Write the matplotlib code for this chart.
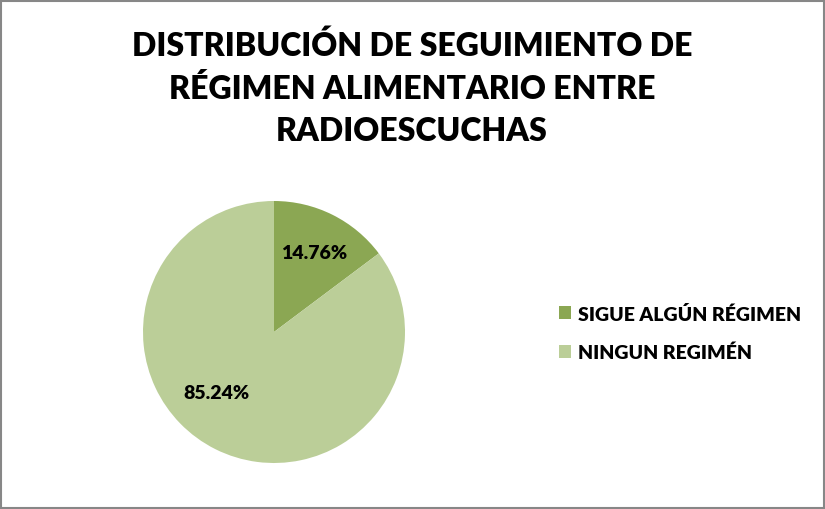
import matplotlib
matplotlib.use("Agg")
import matplotlib.pyplot as plt
from matplotlib.patches import Rectangle, Patch

title = "DISTRIBUCIÓN DE SEGUIMIENTO DE\nRÉGIMEN ALIMENTARIO ENTRE\nRADIOESCUCHAS"
categories = ["SIGUE ALGÚN RÉGIMEN", "NINGUN REGIMÉN"]
values = [14.76, 85.24]
colors = ["#8BA753", "#BBCE98"]

W, H = 825, 510
fig = plt.figure(figsize=(W / 100, H / 100), dpi=100)
fig.patch.set_facecolor("white")
font = "Lato"

# chart border
fig.patches.append(Rectangle((1 / W, 1 / H), 1 - 2.5 / W, 1 - 2.5 / H, transform=fig.transFigure,
                             fill=False, edgecolor="#878787", linewidth=1.5))

# pie axes
cx, cy, r = 274, H - 333, 131
ax = fig.add_axes([(cx - r) / W, (cy - r) / H, 2 * r / W, 2 * r / H])
wedges, texts, autotexts = ax.pie(values, colors=colors, startangle=90, counterclock=False,
                                  autopct=lambda p: f"{p:.2f}%", pctdistance=0.68,
                                  radius=1, wedgeprops=dict(linewidth=0),
                                  textprops=dict(fontsize=14, fontweight="heavy", family=font, color="black"))
autotexts[1].set_position((-0.44, -0.46))
ax.set_xlim(-1, 1)
ax.set_ylim(-1, 1)
ax.set_aspect("equal")
ax.axis("off")

fig.text(412 / W, 1 - 88 / H, title, ha="center", va="center", fontsize=23, fontweight="heavy",
         family=font, linespacing=1.53)

handles = [Patch(facecolor=c, edgecolor="none") for c in colors]
fig.legend(handles, categories, loc="center left", bbox_to_anchor=(541 / W, 1 - 334 / H),
           frameon=False, prop=dict(family=font, weight="heavy", size=14),
           handlelength=0.62, handleheight=0.62, handletextpad=0.4, labelspacing=1.1)

fig.savefig("out.png", dpi=100)
